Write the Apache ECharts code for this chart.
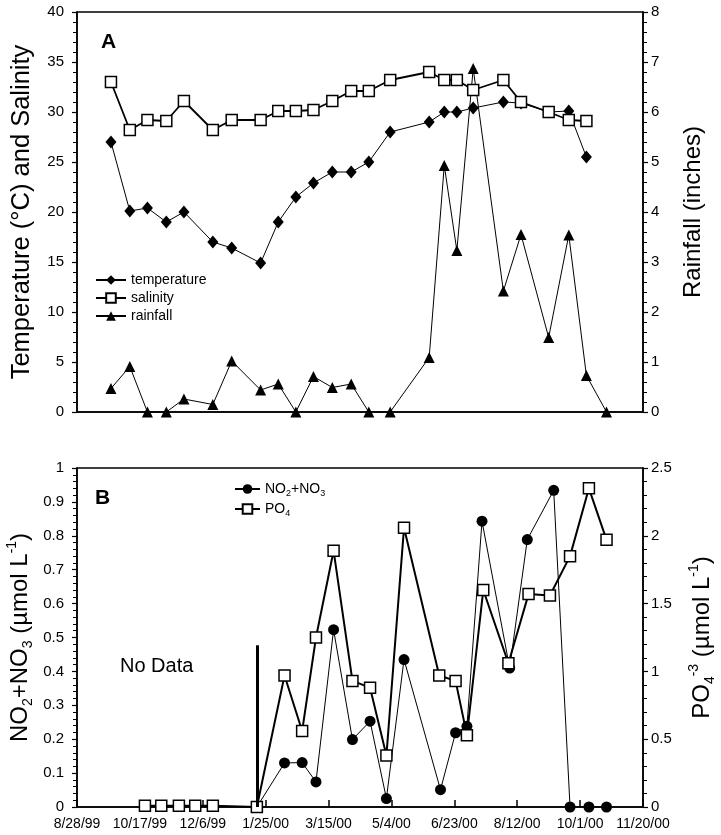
<!DOCTYPE html>
<html>
<head>
<meta charset="utf-8">
<script src="https://cdn.jsdelivr.net/npm/echarts@6/dist/echarts.min.js"></script>
<style>
  html, body { margin: 0; padding: 0; background: #fff; }
  #chart { width: 721px; height: 835px; }
</style>
</head>
<body>
<div id="chart"></div>
<script>
// x values are days since 8/28/99
const startDate = Date.UTC(1999, 7, 28)

// panel A
const daysA = [27, 42, 56, 71, 85, 108, 123, 146, 160, 174, 188, 203, 218, 232, 249, 280, 292, 302, 315, 339, 353, 375, 391, 405]
const temperature = [27.0, 20.1, 20.4, 19.0, 20.0, 17.0, 16.4, 14.9, 19.0, 21.5, 22.9, 24.0, 24.0, 25.0, 28.0, 29.0, 30.0, 30.0, 30.4, 31.0, 30.9, 30.0, 30.1, 25.5]
const salinity = [33.0, 28.2, 29.2, 29.1, 31.1, 28.2, 29.2, 29.2, 30.1, 30.1, 30.2, 31.1, 32.1, 32.1, 33.2, 34.0, 33.2, 33.2, 32.2, 33.2, 31.0, 30.0, 29.2, 29.1]
const daysRain = [27, 42, 56, 71, 85, 108, 123, 146, 160, 174, 188, 203, 218, 232, 249, 280, 292, 302, 315, 339, 353, 375, 391, 405, 421]
const rainfall = [0.47, 0.91, 0, 0, 0.26, 0.15, 1.02, 0.44, 0.56, 0, 0.71, 0.49, 0.56, 0, 0, 1.09, 4.93, 3.23, 6.87, 2.42, 3.55, 1.49, 3.54, 0.73, 0]

// panel B
const daysNO = [143, 165, 179, 190, 204, 219, 233, 246, 260, 289, 301, 310, 322, 344, 358, 379, 392, 407, 421]
const no2no3 = [0, 0.13, 0.131, 0.074, 0.523, 0.199, 0.253, 0.025, 0.435, 0.051, 0.219, 0.238, 0.843, 0.41, 0.789, 0.934, 0, 0, 0]
const daysPO4 = [54, 67, 81, 94, 108, 143, 165, 179, 190, 204, 219, 233, 246, 260, 288, 301, 310, 323, 343, 359, 376, 392, 407, 421]
const po4 = [0.01, 0.01, 0.01, 0.01, 0.01, 0, 0.97, 0.56, 1.25, 1.89, 0.93, 0.88, 0.38, 2.06, 0.97, 0.93, 0.53, 1.6, 1.06, 1.57, 1.56, 1.85, 2.35, 1.97]
const noDataDay = 143
const noDataTop = 0.477

const font = "'Liberation Sans', Arial, sans-serif"

function pairs(xs, ys) {
  return xs.map((x, i) => [x, ys[i]])
}

function dateLabel(v) {
  const d = new Date(startDate + v * 86400000)
  return (d.getUTCMonth() + 1) + '/' + d.getUTCDate() + '/' + String(d.getUTCFullYear() % 100).padStart(2, '0')
}

const nameRich = {
  n: { fontSize: 24, fontFamily: font, color: '#000', lineHeight: 30, verticalAlign: 'middle' },
  sub: { fontSize: 14, fontFamily: font, color: '#000', lineHeight: 13, verticalAlign: 'bottom' },
  sup: { fontSize: 14, fontFamily: font, color: '#000', lineHeight: 13, verticalAlign: 'top' },
}

const legendRich = {
  n: { fontSize: 14, fontFamily: font, color: '#000', lineHeight: 18, verticalAlign: 'middle' },
  sub: { fontSize: 9, fontFamily: font, color: '#000', lineHeight: 8, verticalAlign: 'bottom' },
}

function yAxis(gridIndex, position, min, max, interval, name, nameGap, nameSize) {
  return {
    type: 'value',
    gridIndex,
    position,
    min, max, interval,
    name,
    nameLocation: 'middle',
    nameRotate: 90,
    nameGap,
    nameMoveOverlap: false,
    nameTextStyle: { fontSize: nameSize || 24, fontFamily: font, color: '#000', rich: nameRich },
    axisLine: { show: true, lineStyle: { color: '#000', width: 1.5 } },
    axisTick: { show: true, length: 5, lineStyle: { color: '#000', width: 1.2 } },
    minorTick: { show: true, splitNumber: 5, length: 4, lineStyle: { color: '#000', width: 1 } },
    axisLabel: { color: '#000', fontSize: 15, fontFamily: font, margin: position === 'left' ? 13 : 8 },
    splitLine: { show: false },
  }
}

function xAxis(gridIndex, showLabels) {
  return {
    type: 'value',
    gridIndex,
    min: 0, max: 450, interval: 50,
    axisLine: { show: true, onZero: false, lineStyle: { color: '#000', width: 1.5 } },
    axisTick: { show: showLabels, inside: true, length: 7, lineStyle: { color: '#000', width: 1.5 } },
    axisLabel: { show: showLabels, color: '#000', fontSize: 14, fontFamily: font, margin: 10, formatter: dateLabel, showMinLabel: true, showMaxLabel: true },
    splitLine: { show: false },
  }
}

const lineSeries = (name, xAxisIndex, yAxisIndex, data, symbol, size, width, fill) => ({
  name,
  type: 'line',
  xAxisIndex, yAxisIndex,
  data,
  symbol,
  symbolSize: size,
  showAllSymbol: true,
  lineStyle: { color: '#000', width },
  itemStyle: { color: fill, borderColor: '#000', borderWidth: fill === '#fff' ? 1.5 : 0 },
  emphasis: { disabled: true },
})

const chart = echarts.init(document.getElementById('chart'))
chart.setOption({
  backgroundColor: '#fff',
  animation: false,
  grid: [
    { left: 77, right: 78, top: 12, height: 400, show: true, borderColor: '#000', borderWidth: 1.5, backgroundColor: 'transparent', outerBoundsMode: 'none' },
    { left: 77, right: 78, top: 468, height: 339, show: true, borderColor: '#000', borderWidth: 1.5, backgroundColor: 'transparent', outerBoundsMode: 'none' },
  ],
  xAxis: [xAxis(0, false), xAxis(1, true)],
  yAxis: [
    yAxis(0, 'left', 0, 40, 5, 'Temperature (°C) and Salinity', 42, 25.5),
    yAxis(0, 'right', 0, 8, 1, 'Rainfall (inches)', 38),
    yAxis(1, 'left', 0, 1, 0.1, '{n|NO}{sub|2}{n|+NO}{sub|3}{n| (µmol L}{sup|-1}{n|)}', 42),
    yAxis(1, 'right', 0, 2.5, 0.5, '{n|PO}{sub|4}{sup|-3}{n| (µmol L}{sup|-1}{n|)}', 44),
  ],
  legend: [
    {
      data: ['temperature', 'salinity', 'rainfall'],
      orient: 'vertical', left: 95, top: 273, itemGap: 4, itemWidth: 30, itemHeight: 12,
      textStyle: { color: '#000', fontSize: 14, fontFamily: font },
      padding: 0,
    },
    {
      data: ['NO2+NO3', 'PO4'],
      orient: 'vertical', left: 234, top: 482, itemGap: 4, itemWidth: 25, itemHeight: 12,
      formatter: (n) => n === 'PO4' ? '{n|PO}{sub|4}' : '{n|NO}{sub|2}{n|+NO}{sub|3}',
      textStyle: { color: '#000', fontSize: 14, fontFamily: font, rich: legendRich },
      padding: 0,
    },
  ],
  graphic: [
    { type: 'text', left: 101, top: 32, style: { text: 'A', font: 'bold 21px ' + font, fill: '#000' } },
    { type: 'text', left: 95, top: 488, style: { text: 'B', font: 'bold 21px ' + font, fill: '#000' } },
    { type: 'text', left: 120, top: 656, style: { text: 'No Data', font: '20px ' + font, fill: '#000' } },
  ],
  series: [
    lineSeries('temperature', 0, 0, pairs(daysA, temperature), 'diamond', [11, 13], 1, '#000'),
    lineSeries('salinity', 0, 0, pairs(daysA, salinity), 'rect', 11, 1.8, '#fff'),
    lineSeries('rainfall', 0, 1, pairs(daysRain, rainfall), 'triangle', 11, 1, '#000'),
    Object.assign(lineSeries('NO2+NO3', 1, 2, pairs(daysNO, no2no3), 'circle', 11, 1, '#000'), {
      markLine: {
        silent: true,
        symbol: 'none',
        label: { show: false },
        lineStyle: { color: '#000', width: 3, type: 'solid' },
        data: [[{ coord: [noDataDay, 0] }, { coord: [noDataDay, noDataTop] }]],
      },
    }),
    lineSeries('PO4', 1, 3, pairs(daysPO4, po4), 'rect', 11, 2, '#fff'),
  ],
})
</script>
</body>
</html>
